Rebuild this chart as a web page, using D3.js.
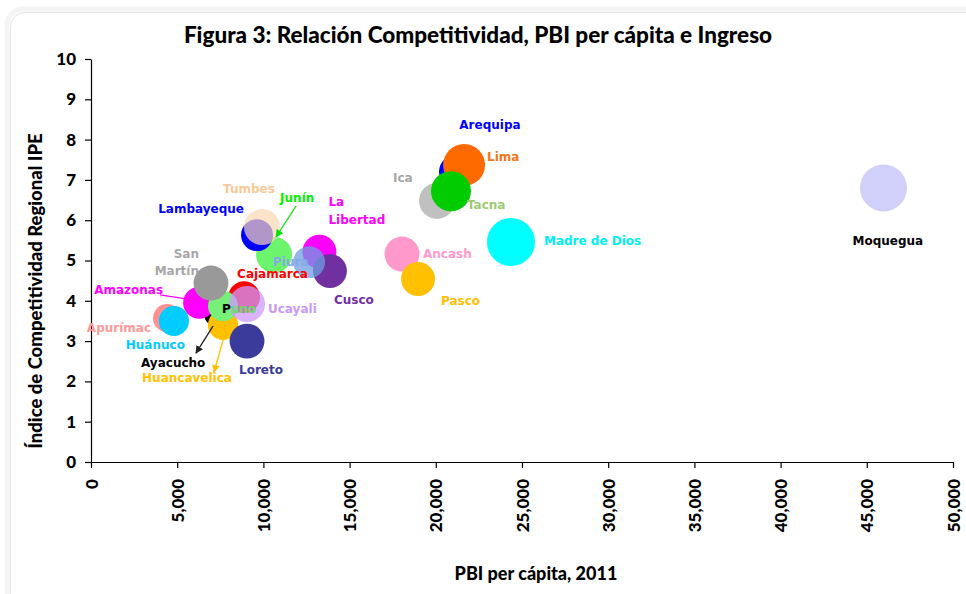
<!DOCTYPE html>
<html>
<head>
<meta charset="utf-8">
<script src="https://cdn.jsdelivr.net/npm/d3@7"></script>
<style>
  html, body { margin: 0; padding: 0; background: #fff; }
  svg { display: block; }
  .lbl { font-family: "DejaVu Sans", Verdana, sans-serif; font-weight: bold; font-size: 12px; }
  .tick text { font-family: Lato, sans-serif; font-weight: 900; font-size: 17px; fill: #000; }
</style>
</head>
<body>
<svg id="chart" width="966" height="594"></svg>
<script>
// ---------------- DATA ----------------
const regions = ["Moquegua","Madre de Dios","Arequipa","Lima","Ica","Tacna","Ancash","Pasco",
  "La Libertad","Cusco","Piura","Junín","Lambayeque","Tumbes","Ayacucho","Amazonas","Cajamarca",
  "Huancavelica","Puno","San Martín","Ucayali","Loreto","Apurímac","Huánuco"];
// PBI per cápita 2011 (x)
const pbi = [45970, 24360, 21170, 21640, 20070, 20880, 18040, 18970,
  13250, 13860, 12650, 10620, 9630, 9920, 7250, 6270, 8880,
  7660, 7660, 6960, 9050, 9050, 4410, 4810];
// Índice de Competitividad Regional IPE (y)
const ipe = [6.80, 5.46, 7.20, 7.37, 6.48, 6.72, 5.16, 4.54,
  5.22, 4.74, 4.96, 5.14, 5.63, 5.83, 3.67, 3.95, 4.09,
  3.40, 3.87, 4.44, 3.92, 3.00, 3.57, 3.50];
// Ingreso (bubble size)
const ingreso = [1340, 1400, 700, 1070, 790, 970, 740, 700,
  700, 700, 620, 790, 620, 790, 350, 620, 620,
  550, 550, 740, 790, 740, 480, 550];
const xTicks = [0,5000,10000,15000,20000,25000,30000,35000,40000,45000,50000];
const yTicks = [0,1,2,3,4,5,6,7,8,9,10];

// ---------------- STYLES / LAYOUT ----------------
const fillColors = ["#D0D0FA","#00FFFF","#0000FF","#FF6A00","#C0C0C0","#00CC00","#FF99CC","#FFC000",
  "#FF00FF","#7030A0","#6E9EE0","#6CF56C","#0000FF","#FCD5B4","#000000","#FF00FF","#FF0000",
  "#FFC000","#77F077","#999999","#CC99FF","#3B3B9B","#FF9191","#00CCFF"];
const fillOpacity = [1,1,1,1,1,1,1,1, 1,1,0.75,1,1,0.7,1,1,1, 1,1,1,0.75,1,1,1];
const labelColors = ["#000000","#00F0F0","#0000FF","#EE7722","#A6A6A6","#9CCB6E","#FF99CC","#FFC000",
  "#FF00FF","#7030A0","#85A8E8","#00F000","#0000FF","#F8C898","#000000","#FF00FF","#FF0000",
  "#FFC000","#66DD66","#A6A6A6","#C99AF5","#3B3B9B","#FF9999","#00CCFF"];
// label offsets (px, relative to bubble centre): [dx, dy, anchor]
const labelPos = [[-31,57,"start"],[33,3,"start"],[34,-43,"middle"],[23,-4,"start"],[-44,-19,"start"],[16,18,"start"],[21,4,"start"],[23,26,"start"],
  [9,-46,"start"],[4,33,"start"],[-36,4,"start"],[6,-53,"start"],[-13,-22,"end"],[-39,-34,"start"],[-75,53,"start"],[-36,-9,"end"],[-7,-19,"start"],
  [-81,57,"start"],[-1,7,"start"],[-12,-25,"end"],[21,9,"start"],[-8,33,"start"],[-16,14,"end"],[11,28,"end"]];

const svg = d3.select("#chart");

// frame
svg.append("rect").attr("x", 7).attr("y", 9).attr("width", 980).attr("height", 600)
  .attr("rx", 16).attr("fill", "none").attr("stroke", "#F4F4F4").attr("stroke-width", 5);
svg.append("rect").attr("x", 10.5).attr("y", 12.5).attr("width", 975).attr("height", 595)
  .attr("rx", 14).attr("fill", "#fff").attr("stroke", "#E2E2E2").attr("stroke-width", 1);

const x = d3.scaleLinear().domain([0, 50000]).range([91, 953]);
const y = d3.scaleLinear().domain([0, 10]).range([462, 59]);
const r = d3.scaleSqrt().domain([0, d3.max(ingreso)]).range([0, 24]);

// title
svg.append("text").attr("x", 478).attr("y", 43).attr("text-anchor", "middle")
  .style("font-family", "Lato, sans-serif").style("font-weight", "900").style("font-size", "22.5px")
  .text("Figura 3: Relación Competitividad, PBI per cápita e Ingreso");

// axes
const yAxis = d3.axisLeft(y).tickValues(yTicks).tickSize(6).tickSizeOuter(0).tickPadding(9).tickFormat(d3.format("d"));
const gy = svg.append("g").attr("transform", "translate(91,0)").call(yAxis);
const xAxis = d3.axisBottom(x).tickValues(xTicks).tickSize(6).tickSizeOuter(0).tickFormat(d3.format(",d"));
const gx = svg.append("g").attr("transform", "translate(0,462)").call(xAxis);
gx.selectAll(".tick text").attr("transform", "rotate(-90)").attr("text-anchor", "end")
  .attr("x", -17).attr("y", 0).attr("dy", "0.36em");
[gx, gy].forEach(g => { g.selectAll("path, line").attr("stroke", "#000").attr("stroke-width", 1.2); });

// axis titles
svg.append("text").attr("transform", "translate(42,291) rotate(-90)").attr("text-anchor", "middle")
  .style("font-family", "Lato, sans-serif").style("font-weight", "900").style("font-size", "18.5px")
  .text("Índice de Competitividad Regional IPE");
svg.append("text").attr("x", 536).attr("y", 580).attr("text-anchor", "middle")
  .style("font-family", "Lato, sans-serif").style("font-weight", "900").style("font-size", "18px")
  .text("PBI per cápita, 2011");

// bubbles
const idx = d3.range(regions.length);
svg.append("g").selectAll("circle").data(idx).join("circle")
  .attr("cx", i => x(pbi[i])).attr("cy", i => y(ipe[i])).attr("r", i => r(ingreso[i]))
  .attr("fill", i => fillColors[i]).attr("fill-opacity", i => fillOpacity[i]);

// arrows / leader lines
const defs = svg.append("defs");
function marker(id, col) {
  defs.append("marker").attr("id", id).attr("viewBox", "0 0 10 10").attr("refX", 9).attr("refY", 5)
    .attr("markerWidth", 6).attr("markerHeight", 6).attr("orient", "auto")
    .append("path").attr("d", "M0,0L10,5L0,10z").attr("fill", col);
}
marker("mG", "#00E000"); marker("mK", "#222"); marker("mY", "#FFC000");
const pointers = [
  {name: "Junín", d: [22,-49,2,-18], col: "#22DD22", m: "mG"},
  {name: "Ayacucho", d: [-3,12,-20,39], col: "#222", m: "mK"},
  {name: "Huancavelica", d: [0,15,-9,47], col: "#FFC000", m: "mY"},
  {name: "Amazonas", d: [-39,-8,-13,-4], col: "#FF00FF", m: null}
];
pointers.forEach(p => {
  const i = regions.indexOf(p.name);
  const cx = x(pbi[i]), cy = y(ipe[i]);
  const l = svg.append("line").attr("x1", cx + p.d[0]).attr("y1", cy + p.d[1])
    .attr("x2", cx + p.d[2]).attr("y2", cy + p.d[3]).attr("stroke", p.col).attr("stroke-width", 1.3);
  if (p.m) l.attr("marker-end", `url(#${p.m})`);
});

// labels
const lg = svg.append("g");
idx.forEach(i => {
  const cx = x(pbi[i]), cy = y(ipe[i]);
  const [dx, dy, anc] = labelPos[i];
  const t = lg.append("text").attr("class", "lbl").attr("x", cx + dx).attr("y", cy + dy)
    .attr("text-anchor", anc).attr("fill", labelColors[i]);
  const name = regions[i];
  if (name === "La Libertad") {
    t.append("tspan").attr("x", cx + dx).text("La");
    t.append("tspan").attr("x", cx + dx).attr("dy", 18).text("Libertad");
  } else if (name === "San Martín") {
    t.append("tspan").attr("x", cx + dx).text("San");
    t.append("tspan").attr("x", cx + dx).attr("dy", 17).text("Martín");
  } else if (name === "Puno") {
    t.append("tspan").attr("fill", "#000").text("P");
    t.append("tspan").text("uno");
  } else {
    t.text(name);
  }
});
</script>
</body>
</html>
